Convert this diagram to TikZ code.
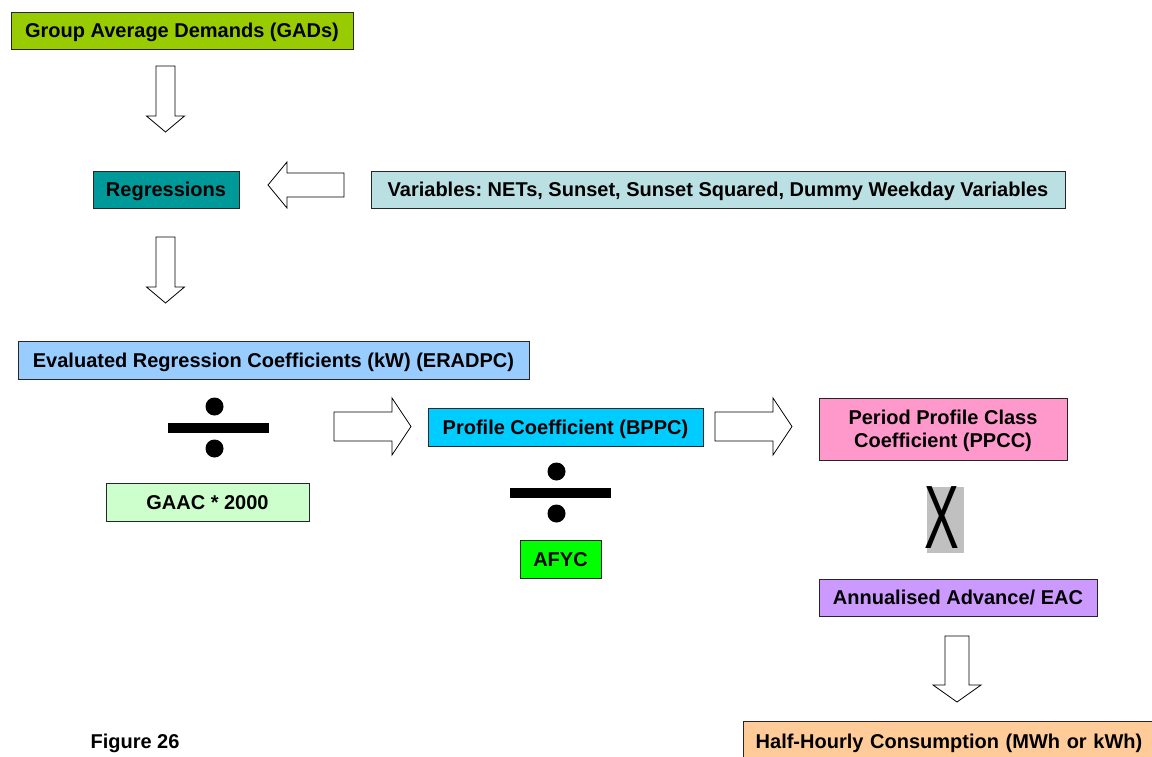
\documentclass[tikz,border=0pt]{standalone}
\usepackage{fontspec}
\setmainfont{Liberation Sans}
\frenchspacing
\definecolor{cGAD}{HTML}{99CC00}
\definecolor{cREG}{HTML}{009999}
\definecolor{cVAR}{HTML}{BBE0E3}
\definecolor{cERA}{HTML}{99CCFF}
\definecolor{cBPP}{HTML}{00CCFF}
\definecolor{cPPC}{HTML}{FF99CC}
\definecolor{cGAA}{HTML}{CCFFCC}
\definecolor{cAFY}{HTML}{00FF00}
\definecolor{cANN}{HTML}{CC99FF}
\definecolor{cHH}{HTML}{FFCC99}
\definecolor{cXG}{HTML}{C0C0C0}
\tikzset{
  box/.style={draw=black!85, line width=0.9pt, inner sep=0pt,
    font=\bfseries\fontsize{20}{23.5}\selectfont, text height=14.3pt, text depth=0pt, align=center},
  lbl/.style={inner sep=0pt, font=\bfseries\fontsize{20}{23.5}\selectfont, text height=14.3pt, text depth=0pt},
  arrowline/.style={draw=black, line width=0.8pt, fill=white, line join=miter},
  pics/barrow/.style n args={4}{code={
    \draw[arrowline] (0,-#2) -- ({#1-#4},-#2) -- ({#1-#4},-#3) -- (#1,0) -- ({#1-#4},#3) -- ({#1-#4},#2) -- (0,#2) -- cycle;}},
  pics/divsign/.style={code={
    \fill[black] (-50.5,-5) rectangle (50.5,5);
    \fill[black] (-4,-21) circle (9);
    \fill[black] (-4,21) circle (9);}}
}
\begin{document}
\begin{tikzpicture}[x=1pt,y=-1pt]
\useasboundingbox (0,0) rectangle (1152,756);
\clip (0,0) rectangle (1152,756);

\node[box, fill=cGAD, minimum width=342pt, minimum height=37pt] (gad) at (182,30.5) {Group Average Demands (GADs)};
\node[box, fill=cREG, minimum width=146pt, minimum height=37pt] (reg) at (166,189.5) {Regressions};
\node[box, fill=cVAR, minimum width=694pt, minimum height=37pt] (var) at (718,189.5) {Variables: NETs, Sunset, Sunset Squared, Dummy Weekday Variables};
\node[box, fill=cERA, minimum width=511pt, minimum height=38pt] (era) at (273.5,360) {Evaluated Regression Coefficients (kW) (ERADPC)};
\node[box, fill=cBPP, minimum width=275pt, minimum height=38pt] (bpp) at (565.5,427) {Profile Coefficient (BPPC)};
\node[box, fill=cPPC, minimum width=248pt, minimum height=62pt, text height=37.8pt, text depth=0pt] (ppc) at (943,429) {Period Profile Class\\Coefficient (PPCC)};
\node[box, fill=cGAA, minimum width=203pt, minimum height=38pt] (gaa) at (207.5,502) {GAAC * 2000};
\node[box, fill=cAFY, minimum width=81pt, minimum height=38pt] (afy) at (560.5,559) {AFYC};
\node[box, fill=cANN, minimum width=278pt, minimum height=37pt] (ann) at (958,597.5) {Annualised Advance/ EAC};
\node[box, fill=cHH, minimum width=412pt, minimum height=40pt, text width=412pt] (hh) at (949,741) {Half-Hourly Consumption (MWh or kWh)};
\node[lbl] (fig) at (135,741) {Figure 26};

% block arrows
\pic[rotate=-90] at (165.5,66) {barrow={66}{9.5}{19}{16}};
\pic[rotate=-90] at (165.5,237) {barrow={66}{9.5}{19}{16}};
\pic[rotate=180] at (344,185) {barrow={76}{12}{23}{19}};
\pic at (334,426.5) {barrow={77}{14.5}{28.5}{19}};
\pic at (715,426.5) {barrow={77}{14.5}{28.5}{19}};
\pic[rotate=-90] at (957,636) {barrow={66}{12}{24}{17}};

% division signs
\pic at (218.5,427.5) {divsign};
\pic at (560.5,492.5) {divsign};

% multiplication X
\fill[cXG] (927,487) rectangle (964,553);
\node[inner sep=0pt, font=\fontsize{90}{90}\selectfont, text height=64.4pt, text depth=0pt] (mx) at (942,516.5) {\scalebox{0.58}[1]{X}};
\end{tikzpicture}
\end{document}
